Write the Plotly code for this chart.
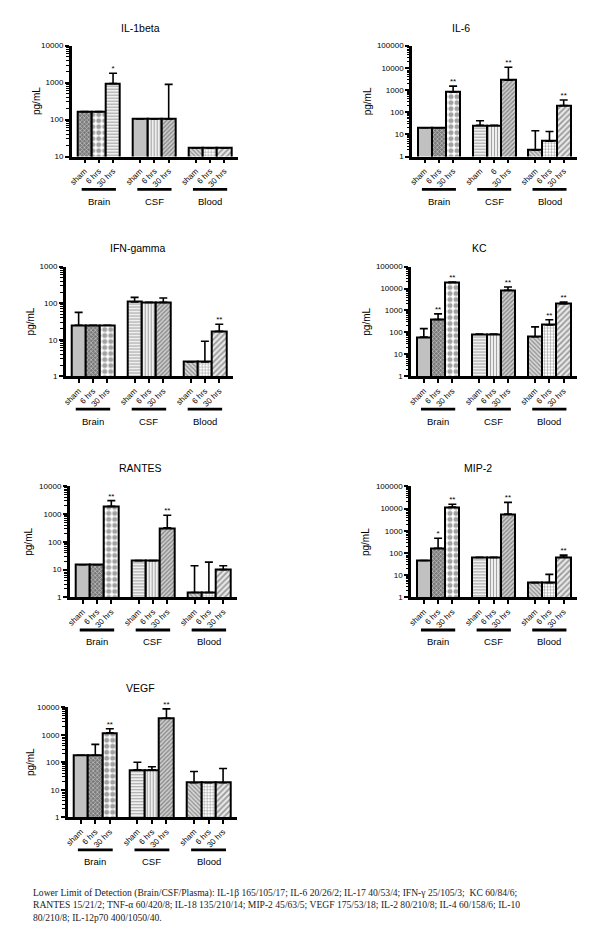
import plotly.graph_objects as go

# ---------------- data ----------------
CATEGORIES = ["sham", "6 hrs", "30 hrs"]
GROUPS = ["Brain", "CSF", "Blood"]
X_POS = [0, 1, 2, 3.9, 4.9, 5.9, 7.8, 8.8, 9.8]
GROUP_CENTERS = [1, 4.9, 8.8]

TITLES = ["IL-1beta", "IL-6", "IFN-gamma", "KC", "RANTES", "MIP-2", "VEGF"]

IL1B_MEAN = [165, 165, 950, 105, 105, 105, 17, 17, 17]
IL1B_TOP = [0, 0, 1800, 0, 0, 900, 0, 0, 0]
IL1B_SIG = ["", "", "*", "", "", "", "", "", ""]

IL6_MEAN = [20, 20, 810, 26, 26, 2800, 2, 5, 200]
IL6_TOP = [0, 0, 1500, 41, 0, 10700, 14.6, 13.6, 355]
IL6_SIG = ["", "", "**", "", "", "**", "", "", "**"]

IFNG_MEAN = [25, 25, 25, 108, 105, 105, 2.5, 2.5, 17]
IFNG_TOP = [56, 0, 0, 144, 0, 138, 0, 9.1, 26.5]
IFNG_SIG = ["", "", "", "", "", "", "", "", "**"]

KC_MEAN = [62, 390, 19000, 84, 84, 8400, 64, 220, 2050]
KC_TOP = [150, 700, 19500, 0, 0, 11800, 180, 380, 2450]
KC_SIG = ["", "**", "**", "", "", "**", "", "**", "**"]

RANTES_MEAN = [15, 15, 1900, 21, 21, 318, 1.5, 1.5, 10]
RANTES_TOP = [0, 0, 3060, 0, 0, 910, 13.8, 18.6, 13.8]
RANTES_SIG = ["", "", "**", "", "", "**", "", "", ""]

MIP2_MEAN = [46, 164, 11800, 63, 63, 5700, 4.6, 4.6, 65]
MIP2_TOP = [0, 460, 15600, 0, 0, 19000, 0, 10.8, 80]
MIP2_SIG = ["", "*", "**", "", "", "**", "", "", "**"]

VEGF_MEAN = [180, 180, 1180, 53, 53, 4000, 18, 18, 18]
VEGF_TOP = [0, 446, 1650, 100, 68, 8700, 46, 0, 59]
VEGF_SIG = ["", "", "**", "", "", "**", "", "", ""]

TICK_TEXT_DEFAULT = CATEGORIES * 3
TICK_TEXT_IL6 = ["sham", "6 hrs", "30 hrs", "sham", "6", "30 hrs", "sham", "6 hrs", "30 hrs"]

Y_DECADES = [(1, 4), (0, 5), (0, 3), (0, 5), (0, 4), (0, 5), (0, 4)]

CAPTION = ("Lower Limit of Detection (Brain/CSF/Plasma): IL-1\u03b2 165/105/17; IL-6 20/26/2; IL-17 40/53/4; "
           "IFN-\u03b3 25/105/3;  KC 60/84/6;<br>RANTES 15/21/2; TNF-\u03b1 60/420/8; IL-18 135/210/14; "
           "MIP-2 45/63/5; VEGF 175/53/18; IL-2 80/210/8; IL-4 60/158/6; IL-10<br>80/210/8; IL-12p70 400/1050/40.")

PANEL_DATA = [
    (IL1B_MEAN, IL1B_TOP, IL1B_SIG, TICK_TEXT_DEFAULT),
    (IL6_MEAN, IL6_TOP, IL6_SIG, TICK_TEXT_IL6),
    (IFNG_MEAN, IFNG_TOP, IFNG_SIG, TICK_TEXT_DEFAULT),
    (KC_MEAN, KC_TOP, KC_SIG, TICK_TEXT_DEFAULT),
    (RANTES_MEAN, RANTES_TOP, RANTES_SIG, TICK_TEXT_DEFAULT),
    (MIP2_MEAN, MIP2_TOP, MIP2_SIG, TICK_TEXT_DEFAULT),
    (VEGF_MEAN, VEGF_TOP, VEGF_SIG, TICK_TEXT_DEFAULT),
]

# ---------------- styles / layout ----------------
W, H = 600, 936
PANEL_BOX = [  # x0, x1, y0, y1 in px
    (61, 228, 34, 146),
    (403, 569, 34, 146),
    (55, 223, 257, 368),
    (402, 569, 257, 368),
    (59, 227, 479, 591),
    (402, 569, 479, 591),
    (57, 227, 702, 813),
]
TITLE_POS = [(130, 16), (452, 16), (128, 238), (471, 238), (130, 460), (469, 460), (130, 683)]
YLAB_X = [25, 358, 20, 357, 18, 357, 19]

PAT = {
    "dots_light": dict(shape=".", fg="#555555", bg="#e4e4e4", size=2, sol=0.5),
    "dark_x": dict(shape="x", fg="#111111", bg="#7a7a7a", size=3, sol=0.45),
    "checker": dict(shape=".", fg="#000000", bg="#ffffff", size=6, sol=0.55),
    "hlines": dict(shape="-", fg="#000000", bg="#ffffff", size=3, sol=0.45),
    "vlines": dict(shape="|", fg="#000000", bg="#ffffff", size=3, sol=0.45),
    "diag": dict(shape="/", fg="#111111", bg="#cfcfcf", size=3, sol=0.45),
    "diag_back": dict(shape="\\", fg="#111111", bg="#d8d8d8", size=3, sol=0.4),
    "grid": dict(shape="+", fg="#111111", bg="#ffffff", size=3, sol=0.35),
    "dash_diag": dict(shape="/", fg="#222222", bg="#e8e8e8", size=4, sol=0.4),
}
STD = ["dots_light", "dark_x", "checker", "hlines", "vlines", "diag", "diag_back", "grid", "dash_diag"]
IL1 = ["dark_x", "checker", "hlines", "dots_light", "vlines", "diag", "diag_back", "grid", "dash_diag"]
PANEL_PATTERNS = [IL1, STD, STD, STD, STD, STD, STD]

FONT = "Liberation Sans, Arial, sans-serif"

fig = go.Figure()
annotations = []
shapes = []

for i, (mean, top, sig, ticktext) in enumerate(PANEL_DATA):
    n = i + 1
    xa = "x" if n == 1 else f"x{n}"
    ya = "y" if n == 1 else f"y{n}"
    xkey = "xaxis" if n == 1 else f"xaxis{n}"
    ykey = "yaxis" if n == 1 else f"yaxis{n}"
    x0, x1, y0, y1 = PANEL_BOX[i]
    pats = [PAT[k] for k in PANEL_PATTERNS[i]]

    up = [(t - m) if t else 0 for m, t in zip(mean, top)]
    fig.add_trace(go.Bar(
        x=X_POS, y=mean, width=1.0, xaxis=xa, yaxis=ya, showlegend=False,
        marker=dict(
            color=[p["bg"] for p in pats],
            line=dict(color="black", width=2),
            pattern=dict(
                shape=[p["shape"] for p in pats],
                fgcolor=[p["fg"] for p in pats],
                bgcolor=[p["bg"] for p in pats],
                size=[p["size"] for p in pats],
                solidity=[p["sol"] for p in pats],
                fillmode="overlay",
            ),
        ),
        error_y=dict(type="data", symmetric=False, array=up, arrayminus=[0] * 9,
                     color="black", thickness=1.6, width=4),
    ))
    sig_y = [max(m, t) for m, t in zip(mean, top)]
    fig.add_trace(go.Scatter(
        x=X_POS, y=sig_y, text=sig, mode="text", textposition="top center",
        textfont=dict(size=8, family=FONT, color="black"),
        xaxis=xa, yaxis=ya, showlegend=False, cliponaxis=False, hoverinfo="skip",
    ))

    lo, hi = Y_DECADES[i]
    majors = [10 ** d for d in range(lo, hi + 1)]
    minors = [m * 10 ** d for d in range(lo, hi) for m in range(2, 10)]
    fig.layout[xkey] = dict(
        domain=[x0 / W, x1 / W], anchor=ya, range=[-0.9, 10.75],
        tickmode="array", tickvals=X_POS, ticktext=ticktext, tickangle=-45,
        ticks="outside", ticklen=4, tickwidth=1.5, tickcolor="black",
        showline=True, linewidth=2.5, linecolor="black", showgrid=False, zeroline=False,
        tickfont=dict(size=8, family=FONT, color="black"),
    )
    fig.layout[ykey] = dict(
        domain=[1 - y1 / H, 1 - y0 / H], anchor=xa, type="log", range=[lo, hi],
        tickmode="array", tickvals=majors, ticktext=[str(v) for v in majors],
        ticks="outside", ticklen=4, tickwidth=1.5, tickcolor="black",
        minor=dict(tickmode="array", tickvals=minors, ticks="outside", ticklen=2.5,
                   tickwidth=1, tickcolor="black", showgrid=False),
        showline=True, linewidth=2.5, linecolor="black", showgrid=False, zeroline=False,
        tickfont=dict(size=8, family=FONT, color="black"),
    )

    ph = y1 - y0
    for g, c in zip(GROUPS, GROUP_CENTERS):
        shapes.append(dict(type="line", xref=xa, yref=f"{ya} domain",
                           x0=c - 1.2, x1=c + 1.2, y0=-33 / ph, y1=-33 / ph,
                           line=dict(color="black", width=2.8)))
        annotations.append(dict(text=g, xref=xa, yref=f"{ya} domain", x=c, y=-45 / ph,
                                showarrow=False, xanchor="center", yanchor="middle",
                                font=dict(size=9.5, family=FONT, color="black")))
    tx, ty = TITLE_POS[i]
    annotations.append(dict(text=TITLES[i], xref="paper", yref="paper", x=tx / W, y=1 - ty / H,
                            showarrow=False, xanchor="center", yanchor="middle",
                            font=dict(size=10.5, family=FONT, color="black")))
    annotations.append(dict(text="pg/mL", xref="paper", yref="paper", x=YLAB_X[i] / W,
                            y=1 - (y0 + y1) / 2 / H, textangle=-90,
                            showarrow=False, xanchor="center", yanchor="middle",
                            font=dict(size=10, family=FONT, color="black")))

annotations.append(dict(text=CAPTION, xref="paper", yref="paper", x=20 / W, y=1 - 881 / H,
                        showarrow=False, xanchor="left", yanchor="top", align="left",
                        font=dict(size=9.6, family="Liberation Serif, Times New Roman, serif",
                                  color="#222222")))

fig.update_layout(
    width=W, height=H, margin=dict(l=0, r=0, t=0, b=0),
    paper_bgcolor="white", plot_bgcolor="white",
    annotations=annotations, shapes=shapes, bargap=0,
    showlegend=False,
)

fig.write_html("out.html")
